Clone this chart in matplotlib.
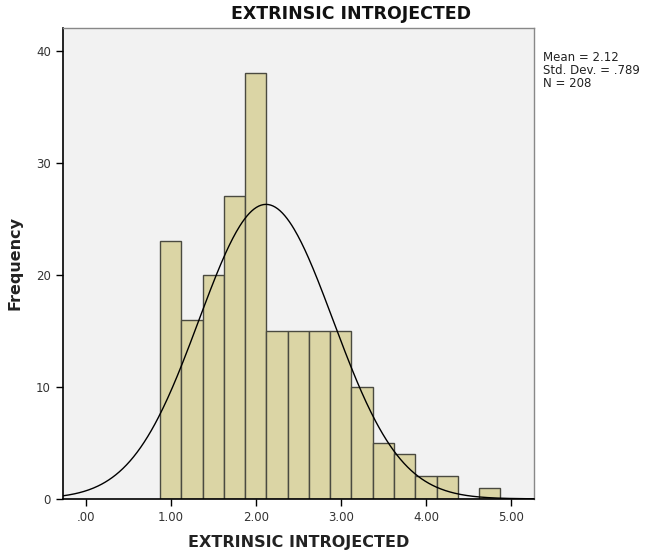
import numpy as np
import matplotlib
matplotlib.use('Agg')
import matplotlib.pyplot as plt

# Histogram data
bin_edges = [0.875, 1.125, 1.375, 1.625, 1.875, 2.125, 2.375, 2.625, 2.875,
             3.125, 3.375, 3.625, 3.875, 4.125, 4.375, 4.625, 4.875]
counts = [23, 16, 20, 27, 38, 15, 15, 15, 15, 10, 5, 4, 2, 2, 0, 1]
mean, sd, n = 2.12, 0.789, 208
x_ticks = [0, 1, 2, 3, 4, 5]
x_tick_labels = ['.00', '1.00', '2.00', '3.00', '4.00', '5.00']
y_ticks = [0, 10, 20, 30, 40]

plt.rcParams['font.family'] = 'DejaVu Sans'

fig = plt.figure(figsize=(6.6, 5.58), dpi=100)
ax = fig.add_axes([0.095, 0.106, 0.714, 0.844])
ax.set_facecolor('#f2f2f2')

lefts = np.array(bin_edges[:-1])
widths = np.diff(bin_edges)
ax.bar(lefts, counts, width=widths, align='edge', color='#dbd5a5',
       edgecolor='#4a4a40', linewidth=1.0, zorder=2)

# normal curve from the stated mean / sd, scaled to bin width
bw = widths[0]
xs = np.linspace(-0.27, 5.27, 400)
ys = n * bw / (sd * np.sqrt(2 * np.pi)) * np.exp(-0.5 * ((xs - mean) / sd) ** 2)
ax.plot(xs, ys, color='black', linewidth=1.0, zorder=3)

ax.set_xlim(-0.27, 5.27)
ax.set_ylim(0, 42.05)
ax.set_xticks(x_ticks)
ax.set_xticklabels(x_tick_labels)
ax.set_yticks(y_ticks)
ax.tick_params(direction='out', length=5, width=1, labelsize=8.5,
               labelcolor='#333333', color='black')

for s in ['left', 'bottom']:
    ax.spines[s].set_color('black')
    ax.spines[s].set_linewidth(1.2)
for s in ['top', 'right']:
    ax.spines[s].set_color('#888888')
    ax.spines[s].set_linewidth(1.0)

ax.set_xlabel('EXTRINSIC INTROJECTED', fontsize=11.5, fontweight='bold',
              color='#222222', labelpad=8)
ax.set_ylabel('Frequency', fontsize=11.5, fontweight='bold',
              color='#222222', labelpad=10)
fig.text(351 / 660, 1 - 14 / 558, 'EXTRINSIC INTROJECTED', ha='center',
         va='center', fontsize=12.5, fontweight='bold', color='#111111')

fig.text(543 / 660, 1 - 51 / 558,
         'Mean = 2.12\nStd. Dev. = .789\nN = 208',
         ha='left', va='top', fontsize=8.5, color='#222222', linespacing=1.0)

fig.savefig('out.png', dpi=100, facecolor='white')
